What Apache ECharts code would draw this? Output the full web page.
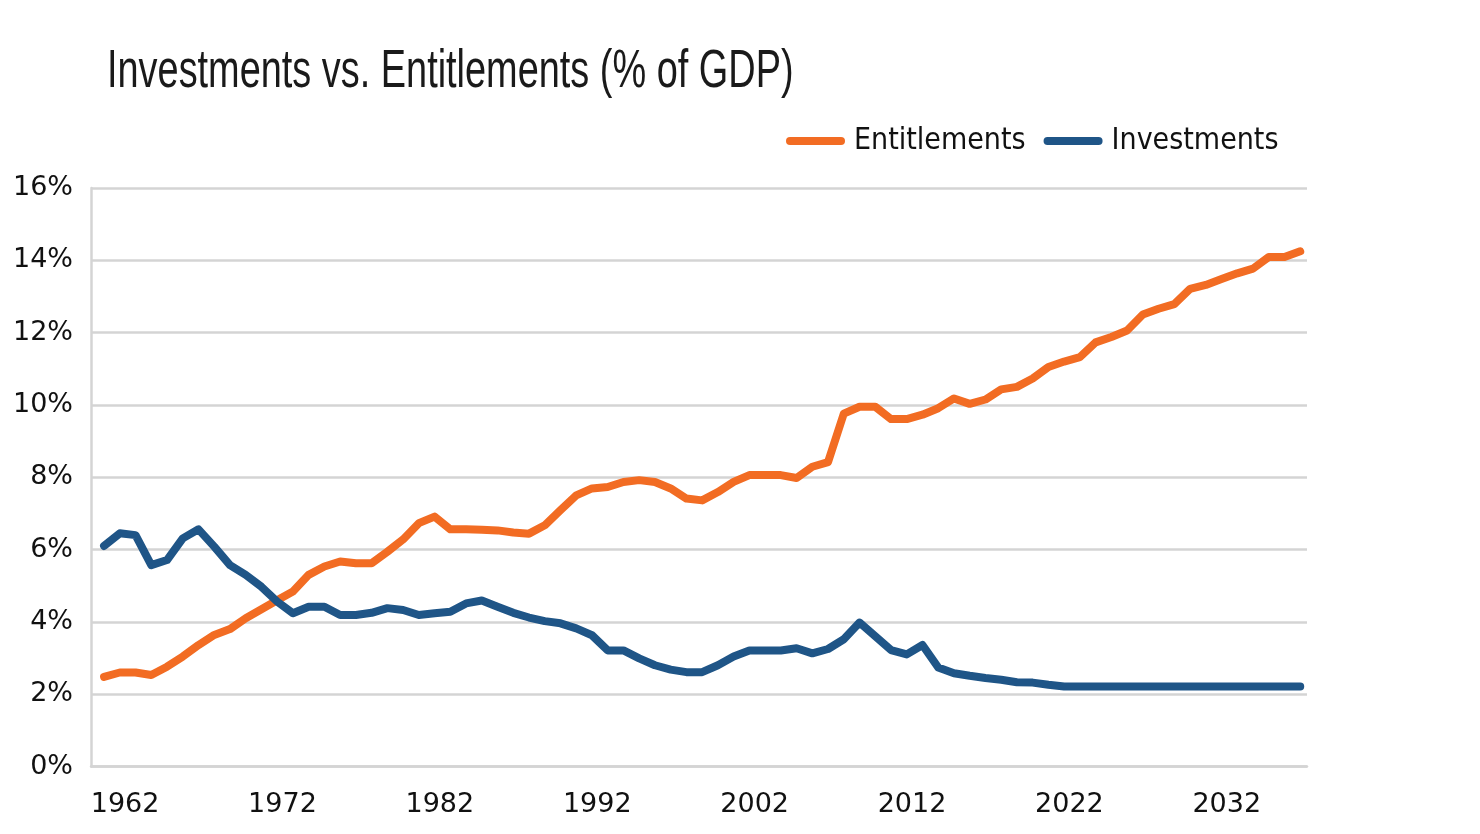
<!DOCTYPE html>
<html>
<head>
<meta charset="utf-8">
<script src="https://cdn.jsdelivr.net/npm/echarts@6/dist/echarts.min.js"></script>
<style>
html,body{margin:0;padding:0;background:#fff;}
#chart{width:1480px;height:834px;}
</style>
</head>
<body>
<div id="chart"></div>
<script>
var titleText = 'Investments vs. Entitlements (% of GDP)';
var seriesNames = ['Entitlements', 'Investments'];
var years = [];
for (var y = 1962; y <= 2038; y++) years.push(y);
var tickYears = [1962, 1972, 1982, 1992, 2002, 2012, 2022, 2032];
var entitlements = [
  2.48, 2.60, 2.60, 2.53, 2.76, 3.04, 3.36, 3.64, 3.80, 4.10,
  4.35, 4.60, 4.84, 5.30, 5.53, 5.67, 5.62, 5.62, 5.94, 6.28,
  6.73, 6.91, 6.56, 6.56, 6.55, 6.53, 6.47, 6.44, 6.67, 7.09,
  7.50, 7.69, 7.73, 7.87, 7.92, 7.87, 7.69, 7.41, 7.36, 7.59,
  7.87, 8.06, 8.06, 8.06, 7.98, 8.29, 8.42, 9.76, 9.95, 9.95,
  9.61, 9.61, 9.73, 9.91, 10.18, 10.03, 10.15, 10.43, 10.50, 10.73,
  11.05, 11.20, 11.32, 11.73, 11.88, 12.06, 12.50, 12.66, 12.79, 13.21,
  13.32, 13.48, 13.64, 13.77, 14.09, 14.09, 14.25
];
var investments = [
  6.10, 6.45, 6.40, 5.57, 5.71, 6.31, 6.56, 6.08, 5.57, 5.30,
  4.97, 4.56, 4.24, 4.42, 4.42, 4.19, 4.19, 4.25, 4.38, 4.33,
  4.19, 4.24, 4.28, 4.51, 4.59, 4.42, 4.25, 4.12, 4.02, 3.96,
  3.82, 3.63, 3.21, 3.21, 2.99, 2.80, 2.68, 2.61, 2.61, 2.80,
  3.04, 3.21, 3.21, 3.21, 3.27, 3.13, 3.25, 3.52, 3.98, 3.60,
  3.22, 3.10, 3.36, 2.74, 2.58, 2.51, 2.45, 2.40, 2.33, 2.32,
  2.26, 2.21, 2.21, 2.21, 2.21, 2.21, 2.21, 2.21, 2.21, 2.21,
  2.21, 2.21, 2.21, 2.21, 2.21, 2.21, 2.21
];

function pairs(vals) {
  return years.map(function (yr, i) { return [yr, vals[i]]; });
}

var chart = echarts.init(document.getElementById('chart'));
var capsule = 'path://M4,0 L55,0 A4,4 0 0 1 55,8 L4,8 A4,4 0 0 1 4,0 Z';
chart.setOption({
  animation: false,
  backgroundColor: '#ffffff',
  graphic: [{
    type: 'text',
    x: 107,
    y: 46,
    scaleX: 0.715,
    style: {
      text: titleText,
      font: '53px "Liberation Sans"',
      fill: '#1a1a1a',
      textAlign: 'left',
      textVerticalAlign: 'top'
    }
  }],
  legend: {
    left: 781,
    top: 121,
    itemWidth: 59,
    itemHeight: 8,
    itemGap: 18,
    icon: capsule,
    textStyle: {
      fontFamily: '"DejaVu Sans Condensed", "DejaVu Sans"',
      fontSize: 30,
      color: '#111111',
      padding: [0, 0, 0, 4]
    },
    data: seriesNames
  },
  grid: { left: 91, right: 173, top: 188, bottom: 67.5, containLabel: false },
  xAxis: {
    type: 'value',
    min: 1961.17,
    max: 2038.43,
    axisLine: { show: true, onZero: false, lineStyle: { color: '#d4d4d4', width: 2.5 } },
    axisTick: { show: false },
    splitLine: { show: false },
    axisLabel: {
      customValues: tickYears,
      formatter: function (v) { return String(v); },
      fontFamily: '"DejaVu Sans"',
      fontSize: 27,
      color: '#111111',
      margin: 25,
      padding: [0, 0, 0, 42]
    }
  },
  yAxis: {
    type: 'value',
    min: 0,
    max: 16,
    interval: 2,
    axisLine: { show: true, lineStyle: { color: '#d4d4d4', width: 2.5 } },
    axisTick: { show: false },
    splitLine: { show: true, lineStyle: { color: '#d4d4d4', width: 2.5 } },
    axisLabel: {
      formatter: '{value}%',
      fontFamily: '"DejaVu Sans"',
      fontSize: 27,
      color: '#111111',
      margin: 18
    }
  },
  series: [
    {
      name: seriesNames[0],
      type: 'line',
      data: pairs(entitlements),
      showSymbol: false,
      symbol: 'none',
      color: '#f26c23',
      lineStyle: { color: '#f26c23', width: 8, cap: 'round', join: 'round' },
      z: 3
    },
    {
      name: seriesNames[1],
      type: 'line',
      data: pairs(investments),
      showSymbol: false,
      symbol: 'none',
      color: '#1f5587',
      lineStyle: { color: '#1f5587', width: 8, cap: 'round', join: 'round' },
      z: 4
    }
  ]
});
</script>
</body>
</html>
